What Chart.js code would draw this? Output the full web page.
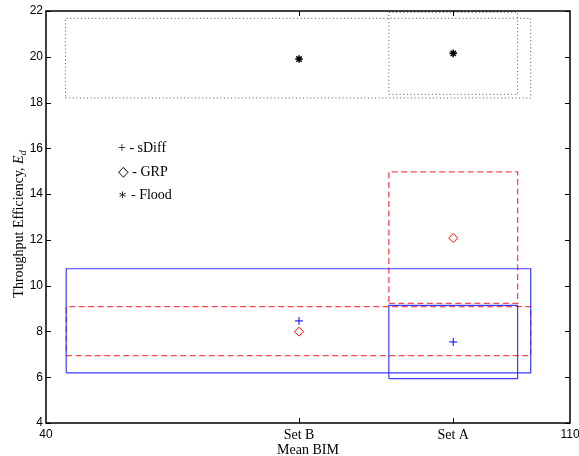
<!DOCTYPE html>
<html>
<head>
<meta charset="utf-8">
<script src="https://cdn.jsdelivr.net/npm/chart.js@4/dist/chart.umd.min.js"></script>
<style>
  html, body { margin: 0; padding: 0; background: #fff; }
  #wrap { width: 579px; height: 456px; }
</style>
</head>
<body>
<div id="wrap"><canvas id="c" width="579" height="456"></canvas></div>
<script>
// ---- data ----
const xTickValues = [40, 73.8, 94.4, 110];
const xTickLabels = ['40', 'Set B', 'Set A', '110'];
const setX = [73.8, 94.4];            // Set B, Set A
const sDiffMean = [8.46, 7.54];
const grpMean = [7.99, 12.08];
const floodMean = [19.9, 20.15];

// boxes: [Set B, Set A]
const sDiffBoxXLo = [42.7, 85.8], sDiffBoxXHi = [104.75, 103.0];
const sDiffBoxYLo = [6.19, 5.94], sDiffBoxYHi = [10.74, 9.14];
const grpBoxXLo = [42.7, 85.8],   grpBoxXHi = [104.75, 103.0];
const grpBoxYLo = [6.94, 9.23],   grpBoxYHi = [9.08, 14.97];
const floodBoxXLo = [42.6, 85.8], floodBoxXHi = [104.75, 103.0];
const floodBoxYLo = [18.2, 18.36], floodBoxYHi = [21.68, 21.94];

const legendLabels = ['+ - sDiff', '\u25C7 - GRP', '\u2217 - Flood'];

function rect(x0, x1, y0, y1) {
  return [{x:x0,y:y0},{x:x1,y:y0},{x:x1,y:y1},{x:x0,y:y1},{x:x0,y:y0}];
}
function boxSets(xl, xh, yl, yh, style) {
  return xl.map((_, i) => Object.assign({
    data: rect(xl[i], xh[i], yl[i], yh[i]),
    showLine: true, fill: false, pointRadius: 0, tension: 0
  }, style));
}

const datasets = [
  ...boxSets(floodBoxXLo, floodBoxXHi, floodBoxYLo, floodBoxYHi,
    { borderColor: '#555', borderWidth: 1, borderDash: [1, 2.6] }),
  ...boxSets(sDiffBoxXLo, sDiffBoxXHi, sDiffBoxYLo, sDiffBoxYHi,
    { borderColor: 'rgba(40,40,255,0.9)', borderWidth: 1.2 }),
  ...boxSets(grpBoxXLo, grpBoxXHi, grpBoxYLo, grpBoxYHi,
    { borderColor: 'rgba(245,40,50,0.85)', borderWidth: 1.3, borderDash: [6, 3.5] }),
  { data: setX.map((x, i) => ({x, y: sDiffMean[i]})), pointStyle: 'cross', pointRadius: 4,
    borderColor: '#0000ff', backgroundColor: '#0000ff', pointBorderWidth: 1, showLine: false },
  { data: setX.map((x, i) => ({x, y: grpMean[i]})), pointStyle: 'rectRot', pointRadius: 4.5,
    borderColor: '#ff0000', backgroundColor: 'rgba(0,0,0,0)', pointBorderWidth: 1, showLine: false },
  { data: setX.map((x, i) => ({x, y: floodMean[i]})), pointStyle: 'star', pointRadius: 3.8,
    borderColor: '#000', backgroundColor: '#000', pointBorderWidth: 1.5, showLine: false }
];

const frame = {
  id: 'frame',
  afterDraw(chart) {
    const {ctx, chartArea: a, scales: {x, y}} = chart;
    ctx.save();
    ctx.strokeStyle = '#000';
    ctx.lineWidth = 1.5;
    ctx.strokeRect(a.left, a.top, a.right - a.left, a.bottom - a.top);
    ctx.lineWidth = 1;
    ctx.beginPath();
    y.ticks.forEach(t => {
      const py = Math.round(y.getPixelForValue(t.value)) + 0.5;
      ctx.moveTo(a.left, py); ctx.lineTo(a.left + 5, py);
      ctx.moveTo(a.right, py); ctx.lineTo(a.right - 5, py);
    });
    x.ticks.forEach(t => {
      if (t.value <= x.min || t.value >= x.max) return;
      const px = Math.round(x.getPixelForValue(t.value)) + 0.5;
      ctx.moveTo(px, a.bottom); ctx.lineTo(px, a.bottom - 5);
      ctx.moveTo(px, a.top); ctx.lineTo(px, a.top + 5);
    });
    ctx.stroke();

    // in-plot legend text
    ctx.fillStyle = '#000';
    ctx.font = '14px "Liberation Serif", "DejaVu Serif", serif';
    ctx.textBaseline = 'middle';
    ctx.textAlign = 'left';
    const ly = [148, 172, 195];
    legendLabels.forEach((s, i) => ctx.fillText(s, 118, ly[i]));

    // y axis title with italic subscript
    ctx.translate(18, 224);
    ctx.rotate(-Math.PI / 2);
    const main = 'Throughput Efficiency, ';
    ctx.font = '14px "Liberation Serif", serif';
    const w1 = ctx.measureText(main).width;
    ctx.font = 'italic 14px "Liberation Serif", serif';
    const w2 = ctx.measureText('E').width;
    ctx.font = 'italic 10px "Liberation Serif", serif';
    const w3 = ctx.measureText('d').width;
    const total = w1 + w2 + w3;
    let sx = -total / 2;
    ctx.textBaseline = 'alphabetic';
    ctx.font = '14px "Liberation Serif", serif';
    ctx.fillText(main, sx, 5); sx += w1;
    ctx.font = 'italic 14px "Liberation Serif", serif';
    ctx.fillText('E', sx, 5); sx += w2;
    ctx.font = 'italic 10px "Liberation Serif", serif';
    ctx.fillText('d', sx, 8);
    ctx.restore();
  }
};

new Chart(document.getElementById('c'), {
  type: 'scatter',
  data: { datasets },
  options: {
    responsive: false,
    animation: false,
    layout: { padding: { top: 11, right: 9, left: 0, bottom: 0 } },
    plugins: { legend: { display: false }, tooltip: { enabled: false } },
    scales: {
      x: {
        type: 'linear', min: 40, max: 110,
        afterBuildTicks: s => { s.ticks = xTickValues.map(v => ({ value: v })); },
        afterFit: s => { s.height = 33; s.paddingLeft = 0; s.paddingRight = 0; },
        grid: { display: false, drawTicks: false },
        border: { display: false },
        ticks: {
          padding: 4, color: '#000', autoSkip: false, maxRotation: 0,
          callback: (v) => { const i = xTickValues.indexOf(v); return i >= 0 ? xTickLabels[i] : ''; },
          font: (c) => {
            const v = c.tick ? c.tick.value : 0;
            return (v === 40 || v === 110)
              ? { family: '"Liberation Sans", Arial, sans-serif', size: 12 }
              : { family: '"Liberation Serif", serif', size: 14 };
          }
        },
        title: {
          display: true, text: 'Mean BIM', color: '#000', padding: { top: 0, bottom: -3 },
          font: { family: '"Liberation Serif", serif', size: 14 }
        }
      },
      y: {
        type: 'linear', min: 4, max: 22,
        afterFit: s => { s.width = 46; s.paddingTop = 0; s.paddingBottom = 0; },
        grid: { display: false, drawTicks: false },
        border: { display: false },
        ticks: {
          stepSize: 2, padding: 3, color: '#000',
          font: { family: '"Liberation Sans", Arial, sans-serif', size: 12 }
        }
      }
    }
  },
  plugins: [frame]
});
</script>
</body>
</html>
